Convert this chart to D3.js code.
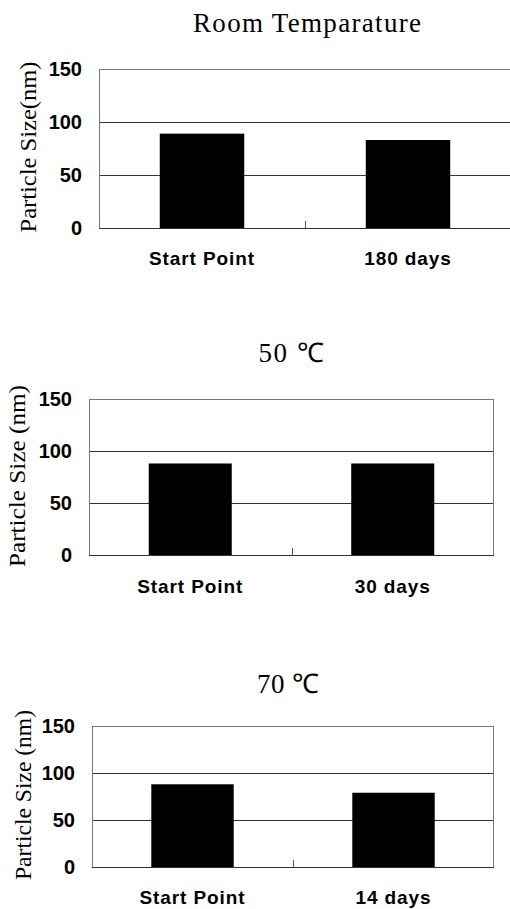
<!DOCTYPE html>
<html>
<head>
<meta charset="utf-8">
<script src="https://cdn.jsdelivr.net/npm/d3@7"></script>
<style>
  html, body { margin: 0; padding: 0; background: #fff; }
  svg { display: block; }
</style>
</head>
<body>
<svg id="chart" width="510" height="909"></svg>
<script>
// --- Données ---
const panelTitles = ["Room Temparature", "50 \u2103", "70 \u2103"];
const yTitles = ["Particle Size(nm)", "Particle Size (nm)", "Particle Size (nm)"];
const categories = [
  ["Start Point", "180 days"],
  ["Start Point", "30 days"],
  ["Start Point", "14 days"]
];
const sizeValues = [
  [89, 83],
  [88, 88],
  [88, 79]
];
const yTicks = [0, 50, 100, 150];

// --- Mise en page (une entrée par panneau) ---
const layouts = [
  { left: 99, right: 511, top: 69, bottom: 228, titleX: 307, titleY: 32, titleLen: 228, yTitleX: 28, yTitleY: 147, yTitleLen: 171, labelY: 265 },
  { left: 89, right: 494, top: 399, bottom: 555, titleX: 291, titleY: 362, titleLen: 65, yTitleX: 17, yTitleY: 476, yTitleLen: 182, labelY: 593 },
  { left: 92, right: 494, top: 726, bottom: 867, titleX: 288, titleY: 693, titleLen: 62, yTitleX: 23, yTitleY: 795, yTitleLen: 170, labelY: 904 }
];

const svg = d3.select("#chart");
const serif = "'Liberation Serif', 'Times New Roman', serif";
const sans = "'Liberation Sans', Arial, sans-serif";

function drawPanel(i) {
  const L = layouts[i];
  const g = svg.append("g").attr("class", "panel");

  const x = d3.scaleBand()
    .domain(categories[i])
    .range([L.left, L.right])
    .paddingInner(0.59)
    .paddingOuter(0.295);

  const y = d3.scaleLinear()
    .domain([0, 150])
    .range([L.bottom, L.top]);

  // lignes de grille (50, 100, 150)
  g.selectAll(".grid")
    .data(yTicks.filter(t => t > 0))
    .enter().append("line")
    .attr("x1", L.left).attr("x2", L.right)
    .attr("y1", d => Math.round(y(d)) + 0.5)
    .attr("y2", d => Math.round(y(d)) + 0.5)
    .attr("stroke", d => d === 150 ? "#777" : "#333")
    .attr("stroke-width", 1);

  // cadre gauche / droite
  g.append("line")
    .attr("x1", L.left + 0.5).attr("x2", L.left + 0.5)
    .attr("y1", y(150)).attr("y2", y(0))
    .attr("stroke", "#777");
  g.append("line")
    .attr("x1", L.right - 0.5).attr("x2", L.right - 0.5)
    .attr("y1", y(150)).attr("y2", y(0))
    .attr("stroke", "#777");

  // barres
  g.selectAll(".bar")
    .data(sizeValues[i])
    .enter().append("rect")
    .attr("x", (d, j) => x(categories[i][j]))
    .attr("width", x.bandwidth())
    .attr("y", d => y(d))
    .attr("height", d => y(0) - y(d))
    .attr("fill", "#000");

  // axe du bas
  g.append("line")
    .attr("x1", L.left).attr("x2", L.right)
    .attr("y1", Math.round(y(0)) + 0.5).attr("y2", Math.round(y(0)) + 0.5)
    .attr("stroke", "#333");

  // petit repère entre les catégories
  const mid = (x(categories[i][0]) + x.bandwidth() + x(categories[i][1])) / 2;
  g.append("line")
    .attr("x1", Math.round(mid) + 0.5).attr("x2", Math.round(mid) + 0.5)
    .attr("y1", y(0) - 7).attr("y2", y(0))
    .attr("stroke", "#555");

  // étiquettes de l'axe Y
  g.selectAll(".ytick")
    .data(yTicks)
    .enter().append("text")
    .attr("x", L.left - 17)
    .attr("y", d => y(d))
    .attr("dy", "0.36em")
    .attr("text-anchor", "end")
    .attr("font-family", sans)
    .attr("font-weight", "bold")
    .attr("font-size", 20)
    .text(d => d);

  // étiquettes des catégories
  g.selectAll(".xlabel")
    .data(categories[i])
    .enter().append("text")
    .attr("x", d => x(d) + x.bandwidth() / 2)
    .attr("y", L.labelY)
    .attr("text-anchor", "middle")
    .attr("font-family", sans)
    .attr("font-weight", "bold")
    .attr("font-size", 19)
    .attr("letter-spacing", "0.9px")
    .text(d => d);

  // titre du panneau
  g.append("text")
    .attr("x", L.titleX)
    .attr("y", L.titleY)
    .attr("text-anchor", "middle")
    .attr("font-family", serif)
    .attr("font-size", 27)
    .attr("textLength", L.titleLen)
    .attr("lengthAdjust", "spacing")
    .text(panelTitles[i]);

  // titre de l'axe Y
  g.append("text")
    .attr("transform", `translate(${L.yTitleX},${L.yTitleY}) rotate(-90)`)
    .attr("text-anchor", "middle")
    .attr("dy", "0.35em")
    .attr("font-family", serif)
    .attr("font-size", 24)
    .attr("textLength", L.yTitleLen)
    .attr("lengthAdjust", "spacingAndGlyphs")
    .text(yTitles[i]);
}

panelTitles.forEach((t, i) => drawPanel(i));
</script>
</body>
</html>
